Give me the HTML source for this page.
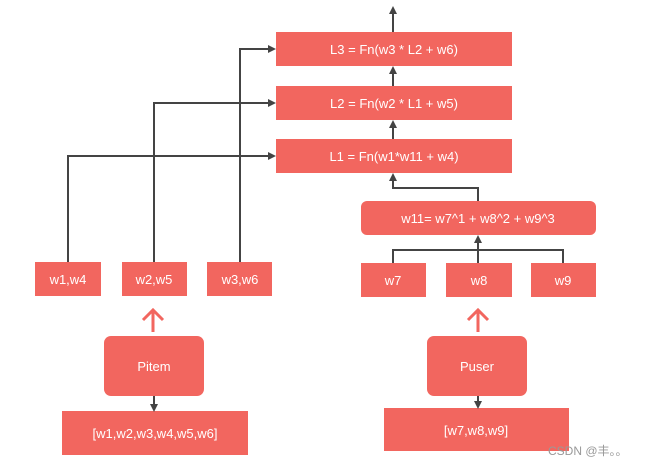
<!DOCTYPE html>
<html><head><meta charset="utf-8"><style>
body{margin:0;background:#fff;width:654px;height:466px;overflow:hidden;}
</style></head><body>
<svg width="654" height="466" xmlns="http://www.w3.org/2000/svg" font-family="Liberation Sans, sans-serif">
<defs><marker id="a" markerWidth="8" markerHeight="8" refX="4" refY="4" orient="auto" markerUnits="userSpaceOnUse"><path d="M0,0 L8,4 L0,8 z" fill="#444"/></marker></defs>
<g fill="#f2665f">
<rect x="276" y="32" width="236" height="34"/>
<rect x="276" y="86" width="236" height="34"/>
<rect x="276" y="139" width="236" height="34"/>
<rect x="361" y="201" width="235" height="34" rx="6"/>
<rect x="35" y="262" width="66" height="34"/>
<rect x="122" y="262" width="65" height="34"/>
<rect x="207" y="262" width="65" height="34"/>
<rect x="361" y="263" width="65" height="34"/>
<rect x="446" y="263" width="66" height="34"/>
<rect x="531" y="263" width="65" height="34"/>
<rect x="104" y="336" width="100" height="60" rx="7"/>
<rect x="427" y="336" width="100" height="60" rx="7"/>
<rect x="62" y="411" width="186" height="44"/>
<rect x="384" y="408" width="185" height="43"/>
</g>
<g stroke="#444" stroke-width="2" fill="none">
<path d="M68 262 V156 H272" marker-end="url(#a)"/>
<path d="M154 262 V103 H272" marker-end="url(#a)"/>
<path d="M240 262 V49 H272" marker-end="url(#a)"/>
<path d="M393 32 V10" marker-end="url(#a)"/>
<path d="M393 86 V70" marker-end="url(#a)"/>
<path d="M393 139 V124" marker-end="url(#a)"/>
<path d="M478 201 V188 H393 V177" marker-end="url(#a)"/>
<path d="M393 263 V250 H563 V263 M478 263 V239" marker-end="url(#a)"/>
<path d="M154 396 V408" marker-end="url(#a)"/>
<path d="M478 396 V405" marker-end="url(#a)"/>
</g>
<g stroke="#f2665f" stroke-width="3" fill="none">
<path d="M153 332 V310 M143 320 L153 310 L163 320"/>
<path d="M478 332 V310 M468 320 L478 310 L488 320"/>
</g>
<g fill="#fff" font-size="13" text-anchor="middle">
<text x="394" y="54">L3 = Fn(w3 * L2 + w6)</text>
<text x="394" y="108">L2 = Fn(w2 * L1 + w5)</text>
<text x="394" y="161">L1 = Fn(w1*w11 + w4)</text>
<text x="478" y="223">w11= w7^1 + w8^2 + w9^3</text>
<text x="68" y="284">w1,w4</text>
<text x="154" y="284">w2,w5</text>
<text x="240" y="284">w3,w6</text>
<text x="393" y="285">w7</text>
<text x="479" y="285">w8</text>
<text x="563" y="285">w9</text>
<text x="154" y="371">Pitem</text>
<text x="477" y="371">Puser</text>
<text x="155" y="438">[w1,w2,w3,w4,w5,w6]</text>
<text x="476" y="435">[w7,w8,w9]</text>
</g>
<text x="548" y="455" font-size="12" fill="#999" font-family="Liberation Sans, Noto Sans CJK SC, sans-serif">CSDN @丰。。</text>
</svg>
</body></html>
